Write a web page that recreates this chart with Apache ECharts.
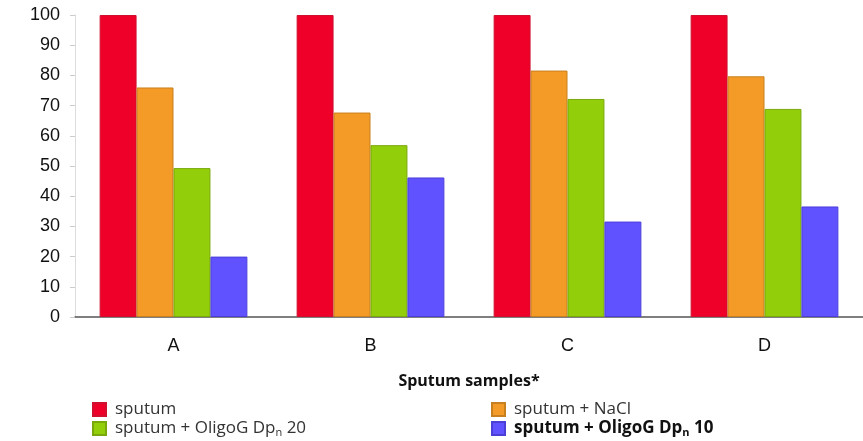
<!DOCTYPE html>
<html>
<head>
<meta charset="utf-8">
<script src="https://cdn.jsdelivr.net/npm/echarts@6/dist/echarts.min.js"></script>
<style>
  html, body { margin: 0; padding: 0; background: #fff; }
  #chart { width: 863px; height: 441px; }
</style>
</head>
<body>
<div id="chart"></div>
<script>
// Sputum samples and the relative value for each treatment
const categories = ['A', 'B', 'C', 'D'];
const sputum = [100, 100, 100, 100];
const sputumNaCl = [76, 67.7, 81.6, 79.7];
const sputumOligoG20 = [49.3, 56.9, 72.2, 68.9];
const sputumOligoG10 = [20, 46.2, 31.6, 36.6];
const yTicks = [0, 10, 20, 30, 40, 50, 60, 70, 80, 90, 100];

const seriesNames = ['sputum', 'sputum + NaCl', 'sputum + OligoG Dpn 20', 'sputum + OligoG Dpn 10'];
const colors = ['#EE0029', '#F39A27', '#92CF0A', '#6052FF'];
const borders = ['#D0102F', '#C8801E', '#79A80C', '#4B3FD8'];
const values = [sputum, sputumNaCl, sputumOligoG20, sputumOligoG10];

const chart = echarts.init(document.getElementById('chart'));

const FONT = 'Open Sans, Liberation Sans, sans-serif';
const legendText = {
  fontFamily: FONT,
  fontSize: 17,
  color: '#333',
  rich: {
    g: { width: 4 },
    n: { fontFamily: FONT, fontSize: 17, color: '#333' },
    s: { fontFamily: FONT, fontSize: 11, color: '#333', padding: [0, 0, -8, 0] },
    b: { fontFamily: FONT, fontSize: 17, fontWeight: 'bold', color: '#111' },
    bs: { fontFamily: FONT, fontSize: 11, fontWeight: 'bold', color: '#111', padding: [0, 0, -8, 0] }
  }
};

// Subscript "n" in the degree-of-polymerisation labels, bold for the last series
function legendFormatter(name) {
  if (name === 'sputum + OligoG Dpn 20') {
    return '{g| }{n|sputum + OligoG Dp}{s|n}{n| 20}';
  }
  if (name === 'sputum + OligoG Dpn 10') {
    return '{g| }{b|sputum + OligoG Dp}{bs|n}{b| 10}';
  }
  return '{g| }{n|' + name + '}';
}

const legendBase = {
  orient: 'vertical',
  top: 401, height: 60,
  padding: 0,
  icon: 'rect', itemWidth: 13, itemHeight: 13, itemGap: 2,
  formatter: legendFormatter,
  textStyle: legendText
};

chart.setOption({
  animation: false,
  backgroundColor: '#fff',
  grid: { left: 75, right: 0, top: 15, bottom: 124 },
  legend: [
    Object.assign({ data: [seriesNames[0], seriesNames[2]], left: 92 }, legendBase),
    Object.assign({ data: [seriesNames[1], seriesNames[3]], left: 491 }, legendBase)
  ],
  xAxis: {
    type: 'category',
    data: categories,
    name: 'Sputum samples*',
    nameLocation: 'middle',
    nameGap: 56,
    nameTextStyle: {
      fontFamily: FONT,
      fontSize: 16, fontWeight: 'bold', color: '#111'
    },
    axisLine: { lineStyle: { color: '#555', width: 1.5 } },
    axisTick: { length: 4, lineStyle: { color: '#bbb' } },
    axisLabel: {
      fontFamily: 'Liberation Sans, Arial, sans-serif',
      fontSize: 18, color: '#111', margin: 20
    }
  },
  yAxis: {
    type: 'value',
    min: yTicks[0], max: yTicks[yTicks.length - 1], interval: 10,
    splitLine: { show: false },
    axisLine: { show: true, lineStyle: { color: '#ddd' } },
    axisTick: { show: true, length: 5, lineStyle: { color: '#ccc' } },
    axisLabel: {
      fontFamily: 'Liberation Sans, Arial, sans-serif',
      fontSize: 18, color: '#111', margin: 15
    }
  },
  series: seriesNames.map((name, i) => ({
    name: name,
    type: 'bar',
    data: values[i],
    barGap: '0%',
    barCategoryGap: '25%',
    itemStyle: { color: colors[i], borderColor: borders[i], borderWidth: 1 }
  }))
});
</script>
</body>
</html>
